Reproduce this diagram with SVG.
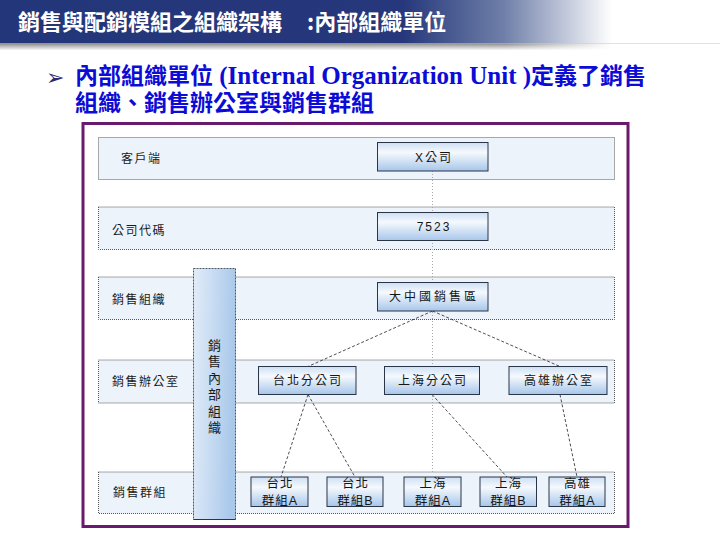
<svg xmlns="http://www.w3.org/2000/svg" width="720" height="540" viewBox="0 0 720 540">
  <defs>
    <linearGradient id="titleGrad" x1="0" y1="0" x2="1" y2="0">
      <stop offset="0" stop-color="#24367a"/>
      <stop offset="0.56" stop-color="#26387b"/>
      <stop offset="0.7" stop-color="#6f7fa9"/>
      <stop offset="0.85" stop-color="#ffffff"/>
    </linearGradient>
    <linearGradient id="shadowGrad" x1="0" y1="0" x2="0" y2="1">
      <stop offset="0" stop-color="#8c8c8c"/>
      <stop offset="1" stop-color="#ffffff"/>
    </linearGradient>
    <linearGradient id="shadowFade" x1="0" y1="0" x2="1" y2="0">
      <stop offset="0" stop-color="#fff" stop-opacity="0"/>
      <stop offset="0.7" stop-color="#fff" stop-opacity="0"/>
      <stop offset="0.85" stop-color="#fff" stop-opacity="1"/>
    </linearGradient>
    <linearGradient id="nodeGrad" x1="0" y1="0" x2="0" y2="1">
      <stop offset="0" stop-color="#cddff3"/>
      <stop offset="0.35" stop-color="#f5f9fd"/>
      <stop offset="1" stop-color="#a7c6ea"/>
    </linearGradient>
    <linearGradient id="barGrad" x1="0" y1="0" x2="1" y2="0.15">
      <stop offset="0" stop-color="#e2ecf8"/>
      <stop offset="0.5" stop-color="#c6dbf2"/>
      <stop offset="1" stop-color="#a9c8ea"/>
    </linearGradient>
    <style>
      .band { fill: #edf3fa; stroke: #555; stroke-width: 1; stroke-dasharray: 1 1; }
      .node { fill: url(#nodeGrad); stroke: #2b3548; stroke-width: 1; }
      .lbl { font-family: "Noto Sans CJK TC", sans-serif; font-size: 12px; fill: #1a1a1a; letter-spacing: 1.5px; }
      .ntx { font-family: "Liberation Sans", "Noto Sans CJK TC", sans-serif; font-size: 12px; fill: #151515; text-anchor: middle; letter-spacing: 2px; }
      .gtx { font-family: "Liberation Sans", "Noto Sans CJK TC", sans-serif; font-size: 12.5px; fill: #151515; text-anchor: middle; letter-spacing: 1px; }
      .vtx { font-family: "Noto Sans CJK TC", sans-serif; font-size: 13px; fill: #1a1a1a; writing-mode: vertical-rl; letter-spacing: 3.4px; }
      .head { font-family: "Liberation Sans", "Noto Sans CJK TC", sans-serif; font-size: 23px; font-weight: bold; fill: #0c0cd6; white-space: pre; }
      .conn { fill: none; stroke: #222; stroke-width: 0.8; stroke-dasharray: 3 2; }
      .guide { fill: none; stroke: #a8a8a8; stroke-width: 1; stroke-dasharray: 1 2; }
    </style>
  </defs>

  <rect x="0" y="0" width="720" height="540" fill="#ffffff"/>

  <!-- title bar -->
  <g id="title">
    <rect x="0" y="0" width="720" height="43.5" fill="url(#titleGrad)"/>
    <rect x="0" y="43.5" width="720" height="7" fill="url(#shadowGrad)"/>
    <rect x="0" y="43.5" width="720" height="7" fill="url(#shadowFade)"/>
    <text x="18" y="30" font-family="Noto Sans CJK TC, sans-serif" font-size="22" font-weight="bold" fill="#ffffff">銷售與配銷模組之組織架構<tspan x="307">:內部組織單位</tspan></text>
  </g>

  <!-- heading -->
  <g id="heading">
    <text x="46" y="85" font-family="DejaVu Sans, sans-serif" font-size="22" fill="#2a2a6e">➢</text>
    <text class="head" x="75" y="84">內部組織單位<tspan font-family="Liberation Serif, serif" font-size="25"> (Internal Organization Unit )</tspan>定義了銷售</text>
    <text class="head" x="75" y="110.5">組織、銷售辦公室與銷售群組</text>
  </g>

  <!-- frame -->
  <rect id="frame" x="83" y="123.5" width="545" height="403" fill="#ffffff" stroke="#6a1a6e" stroke-width="3"/>

  <!-- lanes -->
  <g id="lane-client">
    <rect class="band" x="98.5" y="137.5" width="516" height="42"/>
    <text class="lbl" x="121" y="163">客戶端</text>
  </g>
  <g id="lane-company">
    <rect class="band" x="98.5" y="207" width="516" height="42.5"/>
    <text class="lbl" x="112" y="234.5">公司代碼</text>
  </g>
  <g id="lane-salesorg">
    <rect class="band" x="98.5" y="277" width="516" height="42.5"/>
    <text class="lbl" x="112" y="304">銷售組織</text>
  </g>
  <g id="lane-office">
    <rect class="band" x="98.5" y="360" width="516" height="43"/>
    <text class="lbl" x="112" y="386">銷售辦公室</text>
  </g>
  <g id="lane-group">
    <rect class="band" x="98.5" y="472" width="516" height="41.5"/>
    <text class="lbl" x="113" y="496.5">銷售群組</text>
  </g>

  <!-- connectors -->
  <g id="connectors">
    <line class="guide" x1="432.5" y1="171" x2="432.5" y2="472"/>
    <line class="conn" x1="432.5" y1="311" x2="308" y2="366.5"/>
    <line class="conn" x1="432.5" y1="311" x2="560" y2="366.5"/>
    <line class="conn" x1="308" y1="394.5" x2="281" y2="477"/>
    <line class="conn" x1="308" y1="394.5" x2="355" y2="477"/>
    <line class="conn" x1="432" y1="394.5" x2="507" y2="477"/>
    <line class="conn" x1="560" y1="394.5" x2="577" y2="477"/>
  </g>

  <!-- vertical bar -->
  <g id="internal-org-bar">
    <rect x="193.5" y="268.5" width="42" height="251" fill="url(#barGrad)" stroke="#4a5566" stroke-width="1" stroke-dasharray="2 1"/>
    <line x1="193.5" y1="519.5" x2="235.5" y2="519.5" stroke="#2b3548" stroke-width="1"/>
    <text class="vtx" x="214.5" y="338.5">銷售內部組織</text>
  </g>

  <!-- nodes -->
  <g id="n-xcompany">
    <rect class="node" x="377.5" y="142.5" width="110.5" height="28.5"/>
    <text class="ntx" x="434" y="161.5">X公司</text>
  </g>
  <g id="n-7523">
    <rect class="node" x="377.5" y="212.5" width="110.5" height="28"/>
    <text class="ntx" x="434" y="231">7523</text>
  </g>
  <g id="n-greater-china">
    <rect class="node" x="377.5" y="282.5" width="110.5" height="28.5"/>
    <text class="ntx" x="434" y="301" style="letter-spacing:3px">大中國銷售區</text>
  </g>
  <g id="n-taipei-branch">
    <rect class="node" x="258.5" y="366.5" width="97.5" height="28"/>
    <text class="ntx" x="308" y="385">台北分公司</text>
  </g>
  <g id="n-shanghai-branch">
    <rect class="node" x="384.5" y="366.5" width="95" height="28"/>
    <text class="ntx" x="433" y="385">上海分公司</text>
  </g>
  <g id="n-kaohsiung-office">
    <rect class="node" x="509" y="366.5" width="98" height="28"/>
    <text class="ntx" x="559" y="385">高雄辦公室</text>
  </g>
  <g id="g-taipei-a">
    <rect class="node" x="251" y="477" width="57" height="29.5"/>
    <text class="gtx"><tspan x="280" y="488">台北</tspan><tspan x="280" y="504.5">群組A</tspan></text>
  </g>
  <g id="g-taipei-b">
    <rect class="node" x="327" y="477" width="56" height="29.5"/>
    <text class="gtx"><tspan x="355.5" y="488">台北</tspan><tspan x="355.5" y="504.5">群組B</tspan></text>
  </g>
  <g id="g-shanghai-a">
    <rect class="node" x="404" y="477" width="57" height="29.5"/>
    <text class="gtx"><tspan x="433" y="488">上海</tspan><tspan x="433" y="504.5">群組A</tspan></text>
  </g>
  <g id="g-shanghai-b">
    <rect class="node" x="480" y="477" width="56.5" height="29.5"/>
    <text class="gtx"><tspan x="508.5" y="488">上海</tspan><tspan x="508.5" y="504.5">群組B</tspan></text>
  </g>
  <g id="g-kaohsiung-a">
    <rect class="node" x="549" y="477" width="56" height="29.5"/>
    <text class="gtx"><tspan x="577.5" y="488">高雄</tspan><tspan x="577.5" y="504.5">群組A</tspan></text>
  </g>
</svg>
